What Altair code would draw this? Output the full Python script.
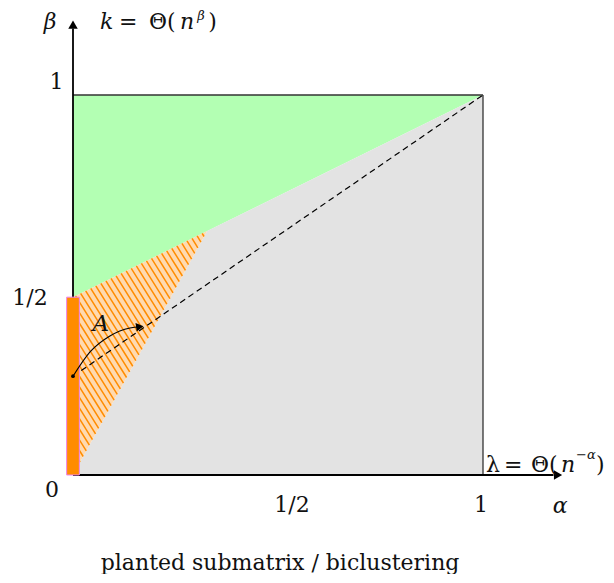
import altair as alt
import pandas as pd

# ---------------- data ----------------
B_HALF = 0.468            # where "1/2" sits on the beta axis in the picture
V_X, V_Y = 0.327, 0.642   # corner where green, hatched and gray meet

green_x = [0.0, 1.0]
green_low = [B_HALF, 1.0]
green_high = [1.0, 1.0]

gray_x = [0.0, V_X, 1.0]
gray_top = [0.0, V_Y, 1.0]

hatch_tri = [(0.0, 0.0), (V_X, V_Y), (0.0, B_HALF)]
hatch_x = [0.0, V_X]
hatch_low = [0.0, V_Y]
hatch_high = [B_HALF, V_Y]

bar_beta = [0.0, B_HALF]
dash_x = [0.0, 1.0]
dash_y = [0.26, 1.0]

curve_x = [0.0, 0.0415, 0.090, 0.139, 0.165]
curve_y = [0.26, 0.324, 0.366, 0.387, 0.390]

FONT = "DejaVu Serif"
W, H = 598, 566
PX_X, PX_Y = 410.0, 380.0
x_dom = [-65 / PX_X, (W - 65) / PX_X]
y_dom = [-(H - 467) / PX_Y, 1 + 87 / PX_Y]
xs = alt.Scale(domain=x_dom, nice=False, zero=False)
ys = alt.Scale(domain=y_dom, nice=False, zero=False)


def X(f="x"):
    return alt.X(f"{f}:Q", scale=xs, axis=None)


def Y(f="y"):
    return alt.Y(f"{f}:Q", scale=ys, axis=None)


layers = []

gdf = pd.DataFrame({"x": green_x, "y": green_low, "y2": green_high})
layers.append(alt.Chart(gdf).mark_area(color="#B3FFB3", interpolate="linear")
              .encode(x=X(), y=Y(), y2="y2:Q"))
grdf = pd.DataFrame({"x": gray_x, "y": gray_top, "y2": [0.0] * 3})
layers.append(alt.Chart(grdf).mark_area(color="#E3E3E3", interpolate="linear")
              .encode(x=X(), y=Y(), y2="y2:Q"))
hdf = pd.DataFrame({"x": hatch_x, "y": hatch_low, "y2": hatch_high})
layers.append(alt.Chart(hdf).mark_area(color="#FFDAB0", interpolate="linear")
              .encode(x=X(), y=Y(), y2="y2:Q"))

# hatch lines clipped to the triangle (computed in pixel space)
slope = 1.6
tri = [(a * PX_X, b * PX_Y) for a, b in hatch_tri]
cs = [p[1] + slope * p[0] for p in tri]
segs = []
c = 3.0
while c < max(cs):
    pts = []
    for i in range(3):
        (x1, y1), (x2, y2) = tri[i], tri[(i + 1) % 3]
        f1 = y1 + slope * x1 - c
        f2 = y2 + slope * x2 - c
        if f1 == f2:
            continue
        t = f1 / (f1 - f2)
        if 0 <= t <= 1:
            pts.append((x1 + t * (x2 - x1), y1 + t * (y2 - y1)))
    if len(pts) >= 2:
        pts.sort()
        (a1, b1), (a2, b2) = pts[0], pts[-1]
        segs.append({"x": a1 / PX_X, "y": b1 / PX_Y, "x2": a2 / PX_X, "y2": b2 / PX_Y})
    c += 10.6
sdf = pd.DataFrame(segs)
layers.append(alt.Chart(sdf).mark_rule(color="#FF8C00", strokeWidth=1.5)
              .encode(x=X(), y=Y(), x2="x2:Q", y2="y2:Q"))

# dashed line
ddf = pd.DataFrame({"x": [dash_x[0]], "y": [dash_y[0]], "x2": [dash_x[1]], "y2": [dash_y[1]]})
layers.append(alt.Chart(ddf).mark_rule(color="black", strokeWidth=1.2, strokeDash=[6, 4])
              .encode(x=X(), y=Y(), x2="x2:Q", y2="y2:Q"))

# square border (top & right)
bdf = pd.DataFrame({"x": [0.0, 1.0], "y": [1.0, 1.0], "x2": [1.0, 1.0], "y2": [1.0, 0.0]})
layers.append(alt.Chart(bdf).mark_rule(color="#333333", strokeWidth=1.3)
              .encode(x=X(), y=Y(), x2="x2:Q", y2="y2:Q"))

# axes with arrowheads
adf = pd.DataFrame({"x": [0.0, 0.0], "y": [0.0, 0.0], "x2": [1.172, 0.0], "y2": [0.0, 1.175]})
layers.append(alt.Chart(adf).mark_rule(color="black", strokeWidth=1.8)
              .encode(x=X(), y=Y(), x2="x2:Q", y2="y2:Q"))
ahdf = pd.DataFrame({"x": [1.183, 0.0], "y": [0.0, 1.185], "shape": ["triangle-right", "triangle-up"]})
layers.append(alt.Chart(ahdf).mark_point(filled=True, color="black", size=90, opacity=1)
              .encode(x=X(), y=Y(), shape=alt.Shape("shape:N", scale=None)))

# orange bar
odf = pd.DataFrame({"x": [-0.0155], "x2": [0.0155], "y": [bar_beta[0]], "y2": [bar_beta[1]]})
layers.append(alt.Chart(odf).mark_rect(color="#FF8C00", stroke="#EE82EE", strokeWidth=1)
              .encode(x=X(), x2="x2:Q", y=Y(), y2="y2:Q"))

# curved arrow
cdf = pd.DataFrame({"x": curve_x, "y": curve_y})
layers.append(alt.Chart(cdf).mark_line(color="black", strokeWidth=1.1, interpolate="monotone")
              .encode(x=X(), y=Y()))
layers.append(alt.Chart(pd.DataFrame({"x": [curve_x[0]], "y": [curve_y[0]]}))
              .mark_point(filled=True, color="black", size=14, opacity=1)
              .encode(x=X(), y=Y()))
layers.append(alt.Chart(pd.DataFrame({"x": [0.163], "y": [0.390]}))
              .mark_point(filled=True, color="black", size=75, opacity=1, shape="triangle-right", angle=352)
              .encode(x=X(), y=Y()))

# texts: (text, x, y, size, italic, align)
texts = [
    ("β", -0.056, 1.192, 22, True, "center"),
    ("k", 0.066, 1.192, 22, True, "left"),
    ("=", 0.1122, 1.192, 22, False, "left"),
    ("Θ(", 0.1854, 1.192, 22, False, "left"),
    ("n", 0.261, 1.192, 22, True, "left"),
    ("β", 0.303, 1.207, 13, True, "left"),
    (")", 0.330, 1.192, 22, False, "left"),
    ("1", -0.040, 1.034, 22, False, "center"),
    ("1/2", -0.105, 0.466, 22, False, "center"),
    ("0", -0.051, -0.039, 22, False, "center"),
    ("1/2", 0.534, -0.079, 22, False, "center"),
    ("1", 0.995, -0.079, 22, False, "center"),
    ("α", 1.188, -0.082, 22, True, "center"),
    ("λ", 1.0073, 0.026, 22, False, "left"),
    ("=", 1.0512, 0.026, 22, False, "left"),
    ("Θ(", 1.117, 0.026, 22, False, "left"),
    ("n", 1.190, 0.026, 22, True, "left"),
    ("−α", 1.2268, 0.053, 13, True, "left"),
    (")", 1.2756, 0.026, 22, False, "left"),
    ("planted submatrix / biclustering", 0.505, -0.2316, 22, False, "center"),
    ("A", 0.068, 0.398, 23, True, "center"),
]
for t, x, y, s, it, al in texts:
    kw = dict(font=FONT, fontSize=s, align=al, baseline="middle", color="#111111")
    if it:
        kw["fontStyle"] = "italic"
    layers.append(alt.Chart(pd.DataFrame({"x": [x], "y": [y], "t": [t]}))
                  .mark_text(**kw).encode(x=X(), y=Y(), text="t:N"))

chart = (alt.layer(*layers)
         .properties(width=W, height=H, autosize=alt.AutoSizeParams(type="none"), padding=0)
         .configure_view(stroke=None))

chart.save("out.html", embed_options={"renderer": "svg", "actions": False})
